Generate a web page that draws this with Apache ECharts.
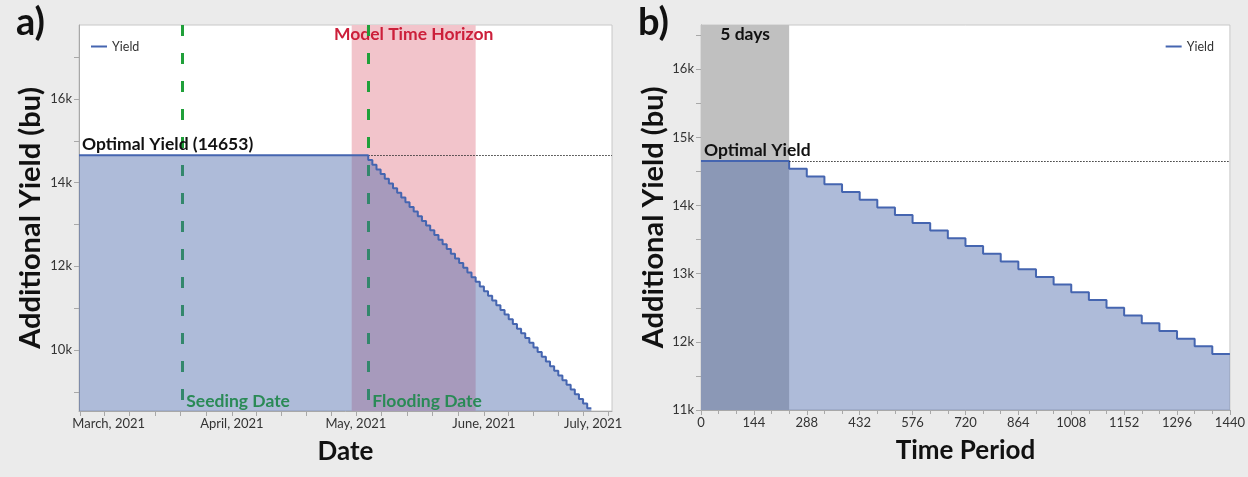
<!DOCTYPE html>
<html>
<head>
<meta charset="utf-8">
<script src="https://cdn.jsdelivr.net/npm/echarts@6/dist/echarts.min.js"></script>
<style>
  html, body { margin: 0; padding: 0; background: #ebebeb; }
  #chart { width: 1248px; height: 477px; }
</style>
</head>
<body>
<div id="chart"></div>
<script>
// ---------- Data ----------
const optimalYield = 14653;
const seedingDate = '2021-03-20';
const floodingDate = '2021-05-04';
const horizonStart = '2021-04-30';
const horizonEnd = '2021-05-30';
const dateAxisMin = '2021-02-23';
const dateAxisMax = '2021-07-02';
const monthStarts = ['2021-02-01', '2021-03-01', '2021-04-01', '2021-05-01', '2021-06-01', '2021-07-01', '2021-08-01'];
const monthNames = ['January','February','March','April','May','June','July','August','September','October','November','December'];

// Panel a: daily yield after the flooding date (one value per day)
const dailyYieldAfterFlood = [
  14541, 14429, 14317, 14205, 14093, 13981, 13869, 13757, 13645, 13533,
  13421, 13309, 13197, 13085, 12973, 12861, 12749, 12637, 12525, 12413,
  12301, 12189, 12077, 11965, 11853, 11741, 11629, 11517, 11405, 11293,
  11181, 11069, 10957, 10845, 10733, 10621, 10509, 10397, 10285, 10173,
  10061, 9949, 9837, 9725, 9613, 9501, 9389, 9277, 9165, 9053,
  8941, 8829, 8717, 8605
];
const yTicksA = [9000, 10000, 11000, 12000, 13000, 14000, 15000, 16000, 17000];
const yLabelsA = [10000, 12000, 14000, 16000];

// Panel b: yield per time period (step starts)
const periodBreaks = [0, 240, 288, 336, 384, 432, 480, 528, 576, 624, 672, 720, 768, 816, 864,
  912, 960, 1008, 1056, 1104, 1152, 1200, 1248, 1296, 1344, 1392, 1440];
const periodYield = [14653, 14540, 14426, 14313, 14200, 14086, 13973, 13860, 13746, 13633,
  13520, 13407, 13293, 13180, 13067, 12953, 12840, 12727, 12613, 12500, 12387, 12273,
  12160, 12047, 11934, 11820, 11820];
const optimalPeriodEnd = 240;
const yTicksB = [11000, 11500, 12000, 12500, 13000, 13500, 14000, 14500, 15000, 15500, 16000, 16500];
const yLabelsB = [11000, 12000, 13000, 14000, 15000, 16000];

// ---------- Build series data ----------
function addDays(str, n) {
  const p = str.split('-').map(Number);
  const d = new Date(p[0], p[1] - 1, p[2] + n);
  return d.getTime();
}
const seriesA = [[addDays(dateAxisMin, 0), optimalYield]];
dailyYieldAfterFlood.forEach((v, i) => seriesA.push([addDays(floodingDate, i), v]));
seriesA.push([addDays(floodingDate, dailyYieldAfterFlood.length), dailyYieldAfterFlood[dailyYieldAfterFlood.length - 1]]);
const seriesB = periodBreaks.map((p, i) => [p, periodYield[i]]);

const xMinA = addDays(dateAxisMin, 0), xMaxA = addDays(dateAxisMax, 0);
// month-start labels, and ticks at each month start plus 4 subdivisions per month
const monthTs = monthStarts.map(s => addDays(s, 0));
const dateLabelValues = monthTs.filter(t => t >= xMinA && t <= xMaxA);
const dateTickValues = [];
for (let i = 0; i < monthTs.length - 1; i++) {
  for (let j = 0; j < 5; j++) {
    const t = monthTs[i] + (monthTs[i + 1] - monthTs[i]) * j / 5;
    if (t >= xMinA && t <= xMaxA) dateTickValues.push(t);
  }
}

const yMinA = 8540, yMaxA = 17770;
const yMinB = 11000, yMaxB = 16650;

const FONT = 'Lato';
const lineColor = '#4565b0';
const areaColor = '#4b68ab';
const axisGray = '#a8a8a8';
const greenLine = '#20a03a';
const greenText = '#2a8a56';
const ANN = 17.5;

const kFmt = v => (v / 1000) + 'k';

const chart = echarts.init(document.getElementById('chart'), null, { renderer: 'canvas' });

const option = {
  backgroundColor: '#ebebeb',
  animation: false,
  textStyle: { fontFamily: FONT },
  title: [
    { text: 'a)', left: 11, top: -1, textStyle: { fontSize: 38, fontWeight: 'bold', fontFamily: FONT, color: '#111' } },
    { text: 'b)', left: 633, top: -1, textStyle: { fontSize: 38, fontWeight: 'bold', fontFamily: FONT, color: '#111' } }
  ],
  legend: [
    { left: 86, top: 35, data: ['Yield'], icon: 'rect', itemWidth: 16, itemHeight: 2, itemGap: 4,
      textStyle: { fontSize: 12.5, color: '#333', fontFamily: FONT } },
    { right: 29, top: 35, data: ['Yield'], icon: 'rect', itemWidth: 16, itemHeight: 2, itemGap: 4,
      textStyle: { fontSize: 12.5, color: '#333', fontFamily: FONT } }
  ],
  grid: [
    { left: 79, right: 636, top: 25, bottom: 66, show: true, backgroundColor: '#fff', borderColor: '#c8c8c8', borderWidth: 1, containLabel: false },
    { left: 701, right: 13, top: 25, bottom: 67, show: true, backgroundColor: '#fff', borderColor: '#c8c8c8', borderWidth: 1, containLabel: false }
  ],
  xAxis: [
    {
      type: 'value', gridIndex: 0,
      min: xMinA, max: xMaxA,
      name: 'Date', nameLocation: 'middle', nameGap: 28,
      nameTextStyle: { fontSize: 26, fontWeight: 'bold', color: '#111', fontFamily: FONT },
      axisLine: { show: true, lineStyle: { color: axisGray } },
      axisTick: { show: true, length: 5, customValues: dateTickValues, lineStyle: { color: axisGray } },
      minorTick: { show: false },
      splitLine: { show: false },
      axisLabel: {
        fontSize: 13, color: '#333', margin: 6, fontFamily: FONT, hideOverlap: false,
        customValues: dateLabelValues,
        formatter: function (value) {
          const d = new Date(value);
          const txt = monthNames[d.getMonth()] + ', ' + d.getFullYear();
          if (value === dateLabelValues[0]) return '\u2002 ' + txt;
          if (value === dateLabelValues[dateLabelValues.length - 1]) return txt + '\u2002\u2002\u2002\u2002 ';
          return txt;
        }
      }
    },
    {
      type: 'value', gridIndex: 1, min: 0, max: 1440, interval: 144,
      name: 'Time Period', nameLocation: 'middle', nameGap: 28,
      nameTextStyle: { fontSize: 26, fontWeight: 'bold', color: '#111', fontFamily: FONT },
      axisLine: { show: true, lineStyle: { color: axisGray } },
      axisTick: { show: true, length: 5, lineStyle: { color: axisGray } },
      minorTick: { show: true, splitNumber: 3, length: 4, lineStyle: { color: axisGray } },
      splitLine: { show: false },
      axisLabel: { fontSize: 13, color: '#333', margin: 6, fontFamily: FONT, formatter: v => String(v) }
    }
  ],
  yAxis: [
    {
      type: 'value', gridIndex: 0, min: yMinA, max: yMaxA,
      name: 'Additional Yield (bu)', nameLocation: 'middle', nameGap: 34, nameRotate: 90,
      nameTextStyle: { fontSize: 29, fontWeight: 'bold', color: '#111', fontFamily: FONT },
      axisLine: { show: true, lineStyle: { color: axisGray } },
      axisTick: { show: true, length: 5, customValues: yTicksA, lineStyle: { color: axisGray } },
      splitLine: { show: false },
      axisLabel: { fontSize: 13, color: '#333', margin: 7, customValues: yLabelsA, formatter: kFmt, fontFamily: FONT }
    },
    {
      type: 'value', gridIndex: 1, min: yMinB, max: yMaxB,
      name: 'Additional Yield (bu)', nameLocation: 'middle', nameGap: 32, nameRotate: 90,
      nameTextStyle: { fontSize: 29, fontWeight: 'bold', color: '#111', fontFamily: FONT },
      axisLine: { show: true, lineStyle: { color: axisGray } },
      axisTick: { show: true, length: 5, customValues: yTicksB, lineStyle: { color: axisGray } },
      splitLine: { show: false },
      axisLabel: { fontSize: 13, color: '#333', margin: 7, customValues: yLabelsB, formatter: kFmt, fontFamily: FONT }
    }
  ],
  series: [
    {
      name: 'Yield', type: 'line', xAxisIndex: 0, yAxisIndex: 0,
      step: 'end', symbol: 'none', showSymbol: false, z: 3,
      data: seriesA,
      lineStyle: { color: lineColor, width: 2 },
      itemStyle: { color: lineColor },
      areaStyle: { color: areaColor, opacity: 0.45, origin: 'start' },
      markArea: {
        silent: true, z: 1,
        itemStyle: { color: '#f2c4cb' },
        label: { show: true, position: 'insideTop', distance: 0, color: '#cc1f3a', fontSize: ANN, fontWeight: 'bold', fontFamily: FONT },
        data: [[{ name: 'Model Time Horizon', xAxis: addDays(horizonStart, 0) }, { xAxis: addDays(horizonEnd, 0) }]]
      },
      markLine: {
        silent: true, symbol: 'none', z: 2, label: { show: false },
        data: [
          [{ coord: [addDays(seedingDate, 0), yMaxA], lineStyle: { color: greenLine, width: 3, type: [11, 17] } },
           { coord: [addDays(seedingDate, 0), yMinA] }],
          [{ coord: [addDays(floodingDate, 0), yMaxA], lineStyle: { color: greenLine, width: 3, type: [11, 17] } },
           { coord: [addDays(floodingDate, 0), yMinA] }],
          [{ coord: [addDays(floodingDate, 0), optimalYield], lineStyle: { color: '#333', width: 1, type: [1.5, 1.5] } },
           { coord: [xMaxA, optimalYield] }]
        ]
      },
      markPoint: {
        silent: true, symbol: 'circle', symbolSize: 0, z: 6,
        itemStyle: { color: 'rgba(0,0,0,0)' },
        data: [
          { coord: [xMinA, optimalYield],
            label: { show: true, formatter: 'Optimal Yield (14653)', position: 'right', distance: 3, offset: [0, -11],
                     color: '#111', fontSize: ANN, fontWeight: 'bold', fontFamily: FONT } },
          { coord: [addDays(seedingDate, 0), yMinA],
            label: { show: true, formatter: 'Seeding Date', position: 'right', distance: 4, offset: [0, -10],
                     color: greenText, fontSize: ANN, fontWeight: 'bold', fontFamily: FONT } },
          { coord: [addDays(floodingDate, 0), yMinA],
            label: { show: true, formatter: 'Flooding Date', position: 'right', distance: 4, offset: [0, -10],
                     color: greenText, fontSize: ANN, fontWeight: 'bold', fontFamily: FONT } }
        ]
      }
    },
    {
      name: 'Yield', type: 'line', xAxisIndex: 1, yAxisIndex: 1,
      step: 'end', symbol: 'none', showSymbol: false, z: 3,
      data: seriesB,
      lineStyle: { color: lineColor, width: 2 },
      itemStyle: { color: lineColor },
      areaStyle: { color: areaColor, opacity: 0.45, origin: 'start' },
      markArea: {
        silent: true, z: 1,
        itemStyle: { color: '#c0c0c0' },
        label: { show: true, position: 'insideTop', distance: 0, color: '#111', fontSize: ANN, fontWeight: 'bold', fontFamily: FONT },
        data: [[{ name: '5 days', xAxis: 0 }, { xAxis: optimalPeriodEnd }]]
      },
      markLine: {
        silent: true, symbol: 'none', z: 5, label: { show: false },
        data: [
          [{ coord: [optimalPeriodEnd, optimalYield], lineStyle: { color: '#333', width: 1, type: [1.5, 1.5] } },
           { coord: [1440, optimalYield] }]
        ]
      },
      markPoint: {
        silent: true, symbol: 'circle', symbolSize: 0, z: 6,
        itemStyle: { color: 'rgba(0,0,0,0)' },
        data: [
          { coord: [0, optimalYield],
            label: { show: true, formatter: 'Optimal Yield', position: 'right', distance: 3, offset: [0, -11],
                     color: '#111', fontSize: ANN, fontWeight: 'bold', fontFamily: FONT } }
        ]
      }
    }
  ]
};
chart.setOption(option);
</script>
</body>
</html>
